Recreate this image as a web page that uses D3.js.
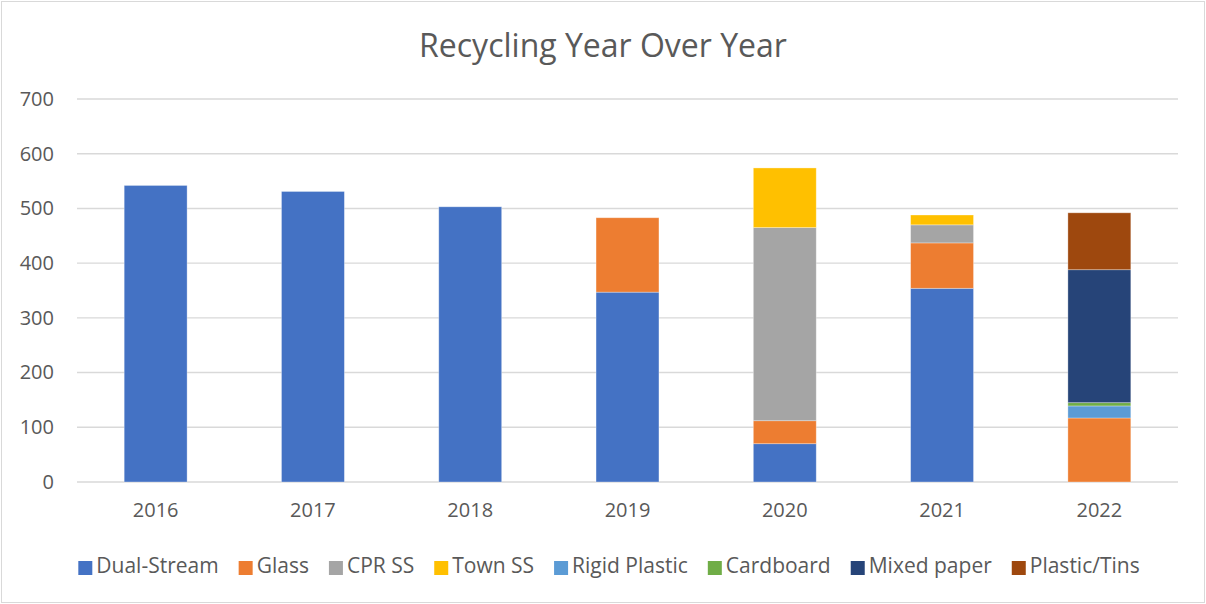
<!DOCTYPE html>
<html>
<head>
<meta charset="utf-8">
<script src="https://cdn.jsdelivr.net/npm/d3@7"></script>
<style>
  body { margin: 0; background: #fff; }
  text { font-family: 'Open Sans', sans-serif; fill: #595959; }
</style>
</head>
<body>
<div id="chart"></div>
<script>
// chart data
const years = ['2016', '2017', '2018', '2019', '2020', '2021', '2022']
const seriesNames = ['Dual-Stream', 'Glass', 'CPR SS', 'Town SS', 'Rigid Plastic', 'Cardboard', 'Mixed paper', 'Plastic/Tins']
const dualStream = [542, 531, 503, 347, 70, 354, 0]
const glass = [0, 0, 0, 136, 42, 83, 117]
const cprSS = [0, 0, 0, 0, 353, 33, 0]
const townSS = [0, 0, 0, 0, 109, 18, 0]
const rigidPlastic = [0, 0, 0, 0, 0, 0, 22]
const cardboard = [0, 0, 0, 0, 0, 0, 6]
const mixedPaper = [0, 0, 0, 0, 0, 0, 243]
const plasticTins = [0, 0, 0, 0, 0, 0, 104]
const yTicks = [0, 100, 200, 300, 400, 500, 600, 700]
const colors = ['#4472C4', '#ED7D31', '#A5A5A5', '#FFC000', '#5B9BD5', '#70AD47', '#264478', '#9E480E']

const allSeries = [dualStream, glass, cprSS, townSS, rigidPlastic, cardboard, mixedPaper, plasticTins]
const rows = years.map((y, i) => {
  const r = { year: y }
  seriesNames.forEach((n, k) => { r[n] = allSeries[k][i] })
  return r
})

const width = 1206
const height = 604
const margin = { top: 99, right: 28, bottom: 122, left: 77 }

const svg = d3.select('#chart')
  .append('svg')
  .attr('width', width)
  .attr('height', height)

// outer chart border
svg.append('rect')
  .attr('x', 1.5).attr('y', 1.5)
  .attr('width', width - 3).attr('height', height - 3)
  .attr('fill', '#fff')
  .attr('stroke', '#d9d9d9')
  .attr('stroke-width', 1)

const x = d3.scaleBand()
  .domain(years)
  .range([margin.left, width - margin.right])
  .paddingInner(0.6)
  .paddingOuter(0.3)

const y = d3.scaleLinear()
  .domain([0, 700])
  .range([height - margin.bottom, margin.top])

// gridlines
svg.append('g')
  .selectAll('line')
  .data(yTicks)
  .enter()
  .append('line')
  .attr('x1', margin.left)
  .attr('x2', width - margin.right)
  .attr('y1', d => y(d))
  .attr('y2', d => y(d))
  .attr('stroke', '#d9d9d9')
  .attr('stroke-width', 1.4)

// y axis labels
const yAxis = svg.append('g')
  .attr('transform', 'translate(' + (margin.left - 23) + ',0)')
  .call(d3.axisLeft(y).tickValues(yTicks).tickSize(0).tickPadding(0))
yAxis.select('.domain').remove()
yAxis.selectAll('text')
  .attr('font-size', '20px')
  .attr('fill', '#595959')
  .style('font-family', "'Open Sans', sans-serif")

// x axis labels
const xAxis = svg.append('g')
  .attr('transform', 'translate(0,' + (height - margin.bottom) + ')')
  .call(d3.axisBottom(x).tickSize(0).tickPadding(21))
xAxis.select('.domain').remove()
xAxis.selectAll('text')
  .attr('font-size', '20px')
  .attr('fill', '#595959')
  .style('font-family', "'Open Sans', sans-serif")

// stacked bars
const stacked = d3.stack().keys(seriesNames)(rows)

svg.append('g')
  .selectAll('g')
  .data(stacked)
  .enter()
  .append('g')
  .attr('fill', (d, i) => colors[i])
  .selectAll('rect')
  .data(d => d.filter(s => s[1] - s[0] > 0))
  .enter()
  .append('rect')
  .attr('x', d => x(d.data.year))
  .attr('y', d => y(d[1]))
  .attr('width', x.bandwidth())
  .attr('height', d => y(d[0]) - y(d[1]))
  .attr('stroke', '#fff')
  .attr('stroke-opacity', 0.4)
  .attr('stroke-width', 0.8)

// title
svg.append('text')
  .attr('x', width / 2)
  .attr('y', 57)
  .attr('text-anchor', 'middle')
  .attr('font-size', '32px')
  .text('Recycling Year Over Year')

// legend
const legend = svg.append('g')
const items = legend.selectAll('g')
  .data(seriesNames)
  .enter()
  .append('g')
items.append('rect')
  .attr('width', 14)
  .attr('height', 14)
  .attr('y', -12)
  .attr('fill', (d, i) => colors[i])
items.append('text')
  .attr('x', 18)
  .attr('y', 0)
  .attr('font-size', '21px')
  .text(d => d)

let cursor = 0
items.each(function () {
  const w = this.querySelector('text').getComputedTextLength()
  d3.select(this).attr('transform', 'translate(' + cursor + ',0)')
  cursor += 18 + w + 20
})
const total = cursor - 20
legend.attr('transform', 'translate(' + ((width - total) / 2 + 6) + ',573)')
</script>
</body>
</html>
